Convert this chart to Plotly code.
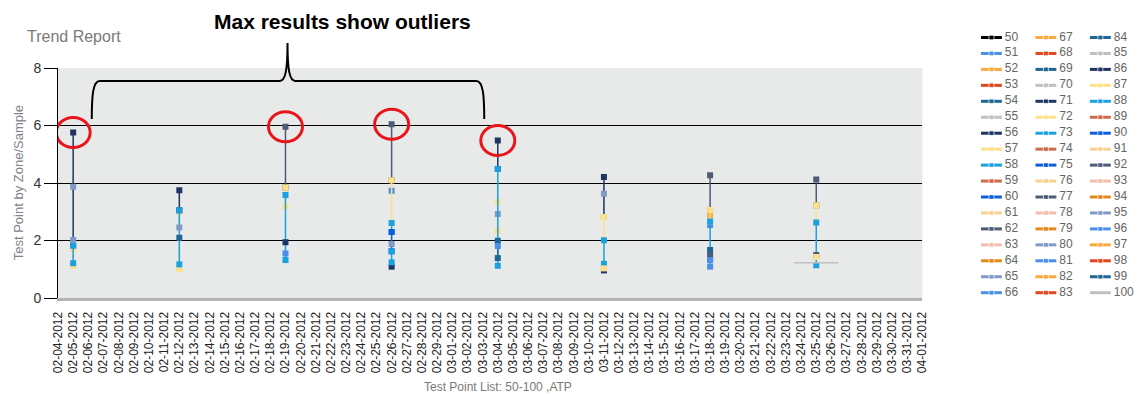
import plotly.graph_objects as go

# ---- canvas geometry (pixels) ----
W, H = 1147, 394
M_L, M_R, M_T, M_B = 58, 0, 20, 96
PLOT_RIGHT, PLOT_TOP = 928, 68
PAPER_W = W - M_L - M_R
PAPER_H = H - M_T - M_B


def px_x(px):
    return (px - M_L) / PAPER_W


def px_y(py):
    return (H - M_B - py) / PAPER_H


# ---- data ----
test_points = list(range(50, 101))
axis_start, axis_end = "2012-02-04", "2012-04-01"

# results per test date: {test point: [results recorded that day]}
feb_05 = {56: [5.76, 1.82], 57: [1.70, 1.12], 65: [3.87], 73: [1.82, 1.21], 80: [2.02]}
feb_12 = {57: [3.00, 1.00], 71: [3.75, 3.05], 73: [3.05, 1.17], 80: [2.45], 84: [2.10]}
feb_19 = {62: [5.96, 3.84], 72: [3.84, 3.18], 73: [3.58, 1.32], 86: [1.94], 96: [1.55]}
feb_26 = {62: [6.04, 4.10], 66: [3.73], 72: [4.10, 2.61], 73: [2.61, 2.30],
          75: [2.30, 1.63], 80: [1.88], 86: [1.09], 88: [1.63, 1.24]}
mar_04 = {56: [5.48, 4.49], 57: [3.34, 2.33], 65: [2.92], 73: [4.49, 1.12],
          84: [1.99, 1.39], 96: [1.81]}
mar_11 = {56: [4.21, 2.82], 65: [3.63], 72: [2.82, 2.01], 73: [2.01, 1.19],
          86: [0.96], 87: [1.03]}
mar_18 = {52: [2.89], 62: [4.27, 3.06], 66: [2.54], 72: [3.06, 2.66], 73: [2.66, 1.32],
          84: [1.67], 92: [1.48], 96: [1.32, 1.09]}
mar_25 = {62: [4.12, 3.23], 72: [3.23, 2.63], 73: [2.63, 1.14], 77: [1.50], 87: [1.43]}

test_dates = ["2012-02-05", "2012-02-12", "2012-02-19", "2012-02-26",
              "2012-03-04", "2012-03-11", "2012-03-18", "2012-03-25"]
by_date = [feb_05, feb_12, feb_19, feb_26, mar_04, mar_11, mar_18, mar_25]

# test point 100 is a flat reference line
tp100_dates = ["2012-03-23 13:00", "2012-03-26 11:00"]
tp100_values = [1.23, 1.23]

# dates whose maximum result is flagged as an outlier
outlier_dates = ["2012-02-05", "2012-02-19", "2012-02-26", "2012-03-04"]

# ---- colours ----
cycle = ["#fbaa3d", "#e1461c", "#1c6794", "#c0c0c0", "#1e3461", "#fde087", "#1aa1e1",
         "#cd6b4c", "#0c5fda", "#f5d28f", "#4f5c77", "#f3bcad", "#e4891b", "#8099c6",
         "#4a8fe9"]


def colour(n):
    return {50: "#000000", 51: "#4a8fe9"}.get(n, cycle[(n - 52) % len(cycle)])


fig = go.Figure()

# ---- main series ----
for tp in test_points:
    xs, ys = [], []
    for d, table in zip(test_dates, by_date):
        if tp in table:
            if xs:
                xs.append(None)
                ys.append(None)
            xs += [d] * len(table[tp])
            ys += table[tp]
    if tp == 100:
        xs, ys = tp100_dates, tp100_values
        mode = "lines"
    else:
        mode = "lines+markers"
    if not xs:
        continue
    fig.add_trace(go.Scatter(
        x=xs, y=ys, mode=mode, name=str(tp), showlegend=False,
        line=dict(color=colour(tp), width=1.5),
        marker=dict(symbol="square", size=6, color=colour(tp)),
        connectgaps=False, hoverinfo="skip", xaxis="x", yaxis="y",
    ))

# ---- legend drawn as its own small panel ----
ROW0, ROW_STEP = 37.5, 15.95
COL0, COL_STEP, SWATCH = 987, 54.8, 21
rows_per_col = 17
for i, tp in enumerate(test_points):
    c, r = divmod(i, rows_per_col)
    x0 = COL0 + c * COL_STEP
    y0 = ROW0 + r * ROW_STEP
    msize = 0 if tp == 100 else 5
    fig.add_trace(go.Scatter(
        x=[x0, x0 + SWATCH / 2, x0 + SWATCH], y=[y0] * 3, mode="lines+markers",
        line=dict(color=colour(tp), width=3),
        marker=dict(symbol="square", size=[0, msize, 0], color=colour(tp)),
        showlegend=False, hoverinfo="skip", cliponaxis=False,
        xaxis="x2", yaxis="y2",
    ))
for c in range(3):
    chunk = test_points[c * rows_per_col:(c + 1) * rows_per_col]
    fig.add_trace(go.Scatter(
        x=[COL0 + c * COL_STEP + SWATCH + 3] * len(chunk),
        y=[ROW0 + r * ROW_STEP for r in range(len(chunk))],
        text=[str(tp) for tp in chunk], mode="text", textposition="middle right",
        textfont=dict(size=12, color="#666666", family="Arial, Liberation Sans"),
        showlegend=False, hoverinfo="skip", cliponaxis=False,
        xaxis="x2", yaxis="y2",
    ))

# ---- plot area background (main panel only) ----
shapes = [dict(type="rect", xref="x domain", yref="y domain", x0=0, x1=1, y0=0, y1=1,
               fillcolor="#e8e9e9", line=dict(width=0), layer="below")]

# ---- outlier circles ----
for d, table in zip(test_dates, by_date):
    if d in outlier_dates:
        top = max(v for vals in table.values() for v in vals)
        shapes.append(dict(
            type="circle", xref="x", yref="y", xsizemode="pixel", ysizemode="pixel",
            xanchor=d, yanchor=top, x0=-17, x1=17, y0=-15, y1=15,
            line=dict(color="#e8161b", width=3), layer="above",
        ))

# ---- curly brace over the outliers ----
brace_pts = [
    ("M", [(92, 119)]),
    ("C", [(92, 96), (93, 81), (100, 81)]),
    ("L", [(281, 81)]),
    ("C", [(287, 81), (289, 70), (289, 43)]),
    ("C", [(289, 70), (291, 81), (297, 81)]),
    ("L", [(479, 81)]),
    ("C", [(486, 81), (487, 96), (487, 119)]),
]
path = " ".join(
    cmd + " " + " ".join(f"{px_x(x):.5f},{px_y(y):.5f}" for x, y in pts)
    for cmd, pts in brace_pts
)
shapes.append(dict(type="path", xref="paper", yref="paper", path=path,
                   line=dict(color="black", width=2), layer="above"))

annotations = [
    dict(text="Trend Report", x=px_x(25), y=px_y(37), xref="paper", yref="paper",
         xanchor="left", yanchor="middle", showarrow=False,
         font=dict(size=16, color="#7a7a7a", family="Arial, Liberation Sans")),
    dict(text="<b>Max results show outliers</b>", x=px_x(344), y=px_y(22),
         xref="paper", yref="paper", xanchor="center", yanchor="middle", showarrow=False,
         font=dict(size=21, color="black", family="Arial, Liberation Sans")),
    dict(text="Test Point by Zone/Sample", x=px_x(18), y=px_y(183), xref="paper",
         yref="paper", xanchor="center", yanchor="middle", textangle=-90, showarrow=False,
         font=dict(size=13, color="#7f838c", family="Arial, Liberation Sans")),
    dict(text="Test Point List: 50-100 ,ATP", x=px_x(501), y=px_y(387), xref="paper",
         yref="paper", xanchor="center", yanchor="middle", showarrow=False,
         font=dict(size=12, color="#7a7a7a", family="Arial, Liberation Sans")),
]

fig.update_layout(
    width=W, height=H,
    margin=dict(l=M_L, r=M_R, t=M_T, b=M_B, pad=0),
    paper_bgcolor="white", plot_bgcolor="white",
    showlegend=False, hovermode=False,
    font=dict(family="Arial, Liberation Sans", color="#333333"),
    shapes=shapes, annotations=annotations,
    xaxis=dict(
        type="date", domain=[0, px_x(PLOT_RIGHT)], range=[axis_start, axis_end],
        tick0=axis_start, dtick=86400000, tickformat="%m-%d-%Y", tickangle=-90,
        tickfont=dict(size=12, color="#222222"), showgrid=False, zeroline=False,
        showline=True, linecolor="#b3b3b3", linewidth=3,
        ticks="outside", ticklen=6, tickcolor="rgba(0,0,0,0)", anchor="y",
    ),
    yaxis=dict(
        domain=[0, px_y(PLOT_TOP)], range=[0, 8], tickvals=[0, 2, 4, 6, 8],
        tickfont=dict(size=14, color="#333333"), showgrid=True, gridcolor="black",
        gridwidth=1, zeroline=False, showline=True, linecolor="black", linewidth=1,
        ticks="outside", ticklen=13, tickcolor="black", anchor="x",
    ),
    xaxis2=dict(domain=[px_x(975), 1], range=[975, W], visible=False,
                fixedrange=True, anchor="y2"),
    yaxis2=dict(domain=[0, 1], range=[H - M_B, M_T], visible=False,
                fixedrange=True, anchor="x2"),
)

fig.write_html("out.html")
